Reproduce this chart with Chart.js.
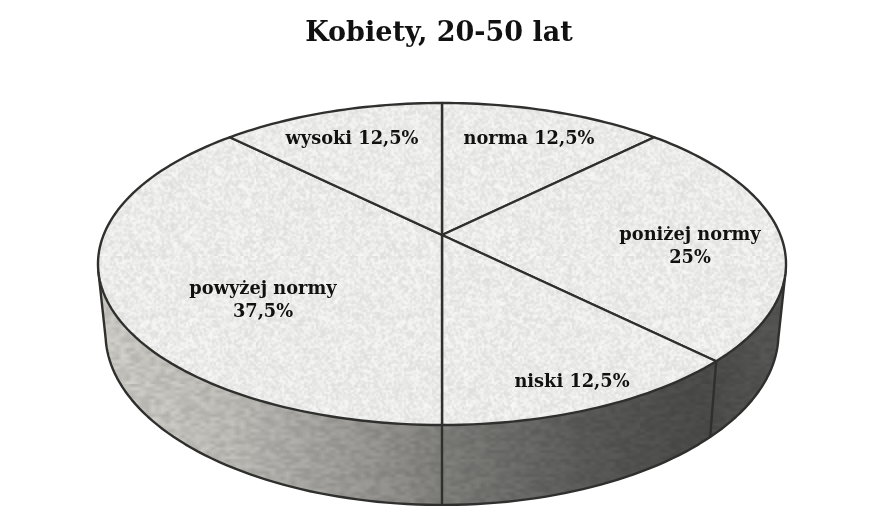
<!DOCTYPE html>
<html>
<head>
<meta charset="utf-8">
<title>Kobiety, 20-50 lat</title>
<script src="https://cdn.jsdelivr.net/npm/chart.js@4"></script>
<style>
  html, body { margin: 0; padding: 0; background: #fff; }
  canvas { display: block; }
</style>
</head>
<body>
<canvas id="pie" width="878" height="519"></canvas>
<script>
const categories = ['norma', 'poniżej normy', 'niski', 'powyżej normy', 'wysoki'];
const shares = [12.5, 25, 12.5, 37.5, 12.5];
const sliceLabels = [['norma 12,5%'], ['poniżej normy', '25%'], ['niski 12,5%'], ['powyżej normy', '37,5%'], ['wysoki 12,5%']];

// where each label sits on the page
const LABEL_POS = [[529, 139], [690, 247], [572, 382], [263, 301], [352, 139]];

const SERIF = '"DejaVu Serif", serif';
const INK = '#2f2f2d';

// perspective of the disc: top face and bottom face
const TOP = { x: 442, y: 235, a: 338.4, b: 155.8, k: 0.18 };
const BOTTOM = { x: 442, y: 302.5, a: 331, b: 166, k: 0.18 };

function project(face, angle) {
  const u = Math.cos(angle), v = -Math.sin(angle);
  const w = 1 + face.k * v;
  return [face.x + face.a * u / w, face.y - face.b * v / w];
}

function trace(ctx, face, from, to, moved) {
  const steps = Math.max(2, Math.ceil(Math.abs(to - from) * 40));
  for (let i = 0; i <= steps; i++) {
    const p = project(face, from + (to - from) * i / steps);
    if (i === 0 && !moved) ctx.moveTo(p[0], p[1]);
    else ctx.lineTo(p[0], p[1]);
  }
}

// mottled stone surface
function grain(i) {
  const s = Math.sin(i * 12.9898) * 43758.5453;
  return s - Math.floor(s);
}

function stoneTile(base, spread, sx, sy) {
  const small = document.createElement('canvas');
  small.width = 128; small.height = 128;
  const c = small.getContext('2d');
  const img = c.createImageData(128, 128);
  for (let i = 0; i < 128 * 128; i++) {
    const g = base + (grain(i + 1) - 0.5) * spread;
    img.data[i * 4] = g;
    img.data[i * 4 + 1] = g;
    img.data[i * 4 + 2] = g - 2;
    img.data[i * 4 + 3] = 255;
  }
  c.putImageData(img, 0, 0);
  const tile = document.createElement('canvas');
  tile.width = 128 * sx; tile.height = 128 * sy;
  const t = tile.getContext('2d');
  t.imageSmoothingEnabled = true;
  t.drawImage(small, 0, 0, tile.width, tile.height);
  return tile;
}

const disc3d = {
  id: 'disc3d',
  afterDatasetsDraw(chart) {
    const ctx = chart.ctx;
    const arcs = chart.getDatasetMeta(0).data;
    const rad = d => d * Math.PI / 180;
    ctx.save();
    ctx.lineJoin = 'round';

    // side wall
    const left = rad(168), right = rad(12);
    ctx.beginPath();
    trace(ctx, TOP, right, left);
    trace(ctx, BOTTOM, left, right, true);
    ctx.closePath();
    const side = ctx.createLinearGradient(100, 0, 786, 0);
    side.addColorStop(0, '#d8d7d3');
    side.addColorStop(0.2, '#c4c3bf');
    side.addColorStop(0.42, '#989795');
    side.addColorStop(0.5, '#848482');
    side.addColorStop(0.72, '#5c5c5b');
    side.addColorStop(0.88, '#4e4e4e');
    side.addColorStop(1, '#5c5c5c');
    ctx.fillStyle = side;
    ctx.fill();
    ctx.save();
    ctx.clip();
    ctx.globalCompositeOperation = 'multiply';
    ctx.fillStyle = ctx.createPattern(stoneTile(236, 36, 5, 3), 'repeat');
    ctx.fillRect(90, 260, 700, 250);
    ctx.restore();

    // wall edges where slices meet in front
    ctx.strokeStyle = INK;
    ctx.lineWidth = 2.4;
    arcs.forEach(arc => {
      if (Math.sin(arc.startAngle) > 0.25) {
        const a = project(TOP, arc.startAngle), b = project(BOTTOM, arc.startAngle);
        ctx.beginPath();
        ctx.moveTo(a[0], a[1]);
        ctx.lineTo(b[0], b[1]);
        ctx.stroke();
      }
    });
    ctx.beginPath();
    const tl = project(TOP, left), tr = project(TOP, right);
    ctx.moveTo(tr[0], tr[1]);
    trace(ctx, BOTTOM, right, left, true);
    ctx.lineTo(tl[0], tl[1]);
    ctx.stroke();

    // top face, one slice per arc element
    const stone = ctx.createPattern(stoneTile(235, 30, 2, 2), 'repeat');
    ctx.lineWidth = 2.4;
    arcs.forEach(arc => {
      ctx.beginPath();
      ctx.moveTo(TOP.x, TOP.y);
      trace(ctx, TOP, arc.startAngle, arc.endAngle, true);
      ctx.closePath();
      ctx.fillStyle = stone;
      ctx.fill();
      ctx.stroke();
    });

    // slice labels
    ctx.fillStyle = '#111';
    ctx.font = 'bold 17.8px ' + SERIF;
    ctx.textAlign = 'center';
    ctx.textBaseline = 'middle';
    sliceLabels.forEach((lines, i) => {
      const [x, y] = LABEL_POS[i];
      lines.forEach((line, n) => {
        ctx.fillText(line, x, y + (n - (lines.length - 1) / 2) * 22.5);
      });
    });
    ctx.restore();
  }
};

new Chart(document.getElementById('pie'), {
  type: 'pie',
  data: {
    labels: categories,
    datasets: [{
      data: shares,
      backgroundColor: 'rgba(0,0,0,0)',
      borderWidth: 0,
    }],
  },
  options: {
    responsive: false,
    animation: false,
    devicePixelRatio: 1,
    plugins: {
      legend: { display: false },
      tooltip: { enabled: false },
      title: {
        display: true,
        text: 'Kobiety, 20-50 lat',
        color: '#111',
        font: { family: SERIF, size: 27, weight: 'bold' },
        padding: { top: 18, bottom: 10 },
      },
    },
  },
  plugins: [disc3d],
});
</script>
</body>
</html>
